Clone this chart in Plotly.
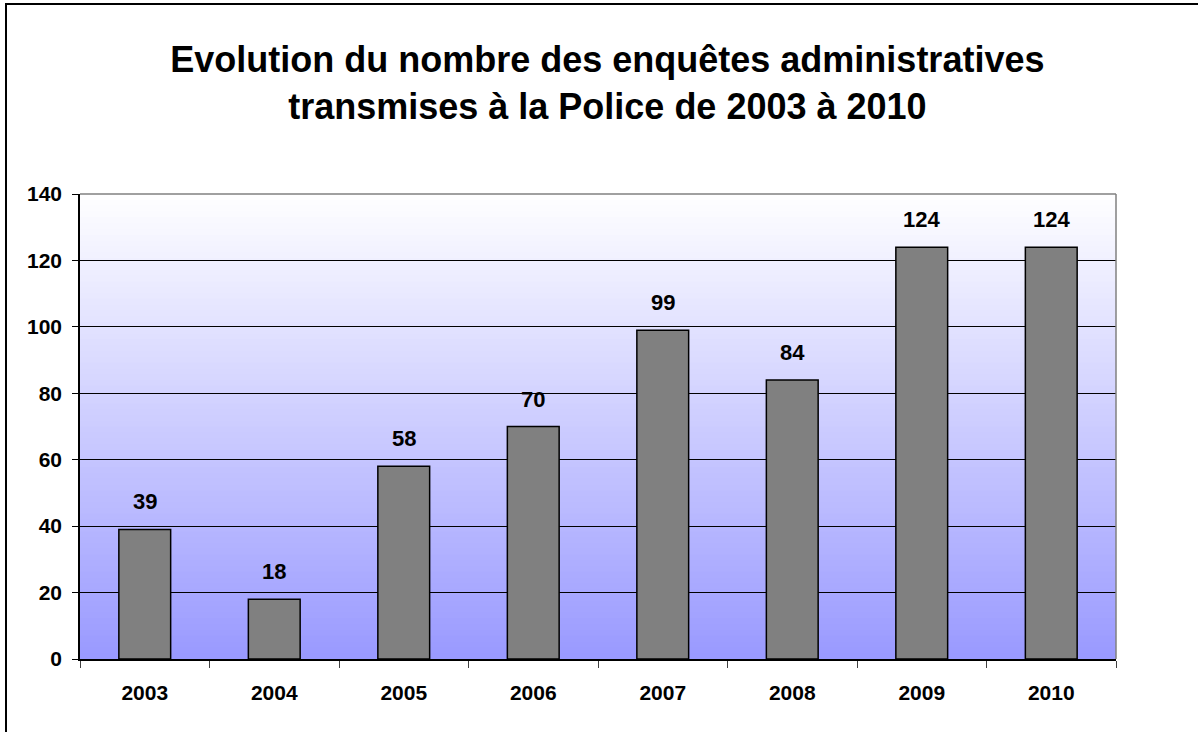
import plotly.graph_objects as go

years = ["2003", "2004", "2005", "2006", "2007", "2008", "2009", "2010"]
values = [39, 18, 58, 70, 99, 84, 124, 124]
y_ticks = [0, 20, 40, 60, 80, 100, 120, 140]

title_text = ("<b>Evolution du nombre des enquêtes administratives<br>"
              "transmises à la Police de 2003 à 2010</b>")

FONT = "Liberation Sans, Arial, sans-serif"

fig = go.Figure()
fig.add_trace(go.Bar(
    x=years, y=values, width=0.4,
    marker=dict(color="#808080", line=dict(color="#000000", width=1.5)),
    hoverinfo="x+y",
))

shapes = []
# gradient plot background (white at top -> light blue-violet at bottom)
n = 80
top = (255, 255, 255)
bot = (153, 153, 255)
for i in range(n):
    f0 = i / n
    f1 = min(1.0, (i + 1) / n + 0.004)
    f = (i + 0.5) / n
    c = tuple(round(bot[k] + (top[k] - bot[k]) * f) for k in range(3))
    shapes.append(dict(type="rect", xref="paper", yref="paper", x0=0, x1=1,
                       y0=f0, y1=f1, layer="below", line=dict(width=0),
                       fillcolor="rgb(%d,%d,%d)" % c))
# gray top and right border of plot area
shapes.append(dict(type="line", xref="paper", yref="paper", x0=0, x1=1,
                   y0=1, y1=1, line=dict(color="#808080", width=1.5), layer="above"))
shapes.append(dict(type="line", xref="paper", yref="paper", x0=1, x1=1,
                   y0=0, y1=1, line=dict(color="#808080", width=1.5), layer="above"))
# outer chart frame
shapes.append(dict(type="rect", xref="paper", yref="paper",
                   x0=(6 - 80) / 1036, x1=1.3, y0=-0.3, y1=(659 - 4) / 465,
                   line=dict(color="#000000", width=2), fillcolor="rgba(0,0,0,0)",
                   layer="above"))

annotations = [
    dict(x=i, y=v, xref="x", yref="y", text="<b>%d</b>" % v, showarrow=False,
         yanchor="bottom", yshift=13, font=dict(family=FONT, size=22, color="#000000"))
    for i, v in enumerate(values)
]

fig.update_layout(
    width=1198, height=732,
    margin=dict(l=80, r=82, t=194, b=73, autoexpand=False),
    paper_bgcolor="#FFFFFF",
    plot_bgcolor="#FFFFFF",
    showlegend=False,
    title=dict(text=title_text, x=0.507, xanchor="center", y=0.901, yanchor="top",
               font=dict(family=FONT, size=36, color="#000000")),
    font=dict(family=FONT, color="#000000"),
    shapes=shapes,
    annotations=annotations,
)
fig.update_xaxes(
    type="category", range=[-0.5, len(years) - 0.5], tickson="boundaries",
    ticks="outside", ticklen=7, tickangle=0, ticklabelstandoff=14,
    tickcolor="#404040", showline=True, linecolor="#000000", linewidth=1.5,
    showgrid=False, tickfont=dict(family=FONT, size=21, color="#000000"),
    tickvals=years, ticktext=["<b>%s</b>" % y for y in years],
)
fig.update_yaxes(
    range=[0, 140], tickvals=y_ticks, ticktext=["<b>%d</b>" % t for t in y_ticks],
    ticks="outside", ticklen=6, tickcolor="#000000", ticklabelstandoff=6,
    showline=True, linecolor="#000000", linewidth=1.5,
    showgrid=True, gridcolor="#000000", gridwidth=1, zeroline=False,
    tickfont=dict(family=FONT, size=21, color="#000000"),
)

fig.write_html("out.html", config={"displayModeBar": False},
               post_script="document.body.style.margin='0';document.body.style.padding='0';")
